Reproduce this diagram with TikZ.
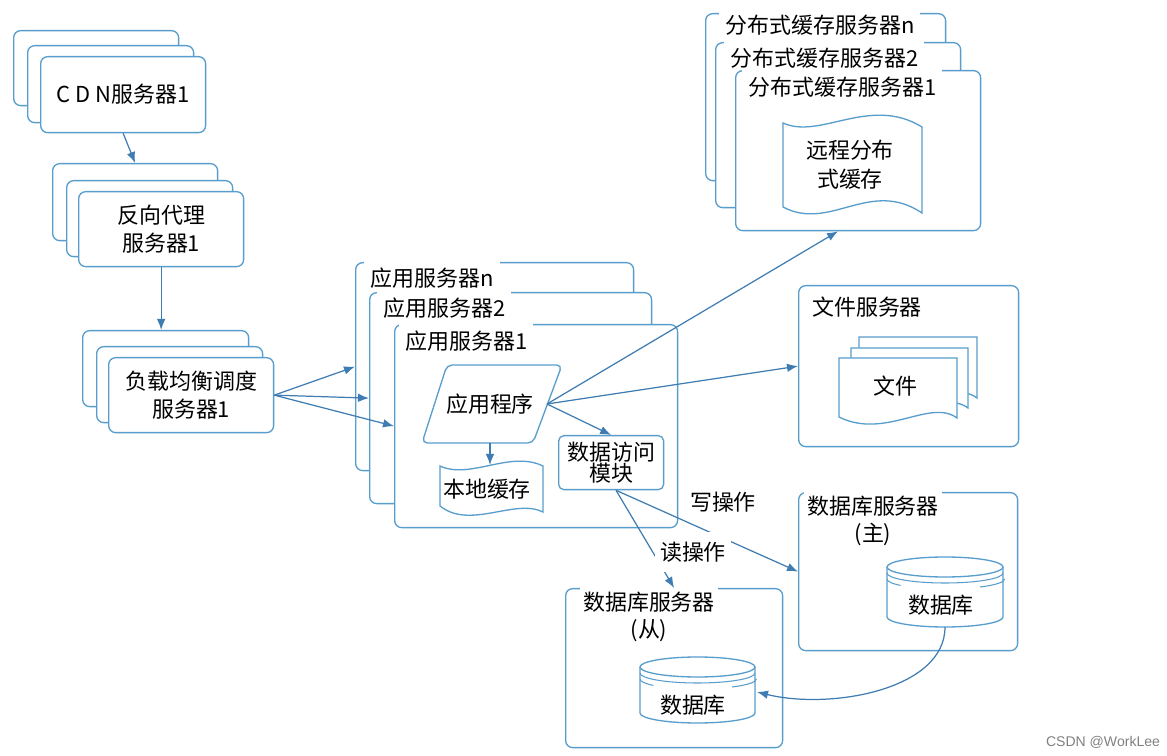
\documentclass[tikz,border=0pt]{standalone}
\usepackage{fontspec}
\setmainfont{Liberation Serif}
\newfontfamily\cjk{Noto Sans CJK SC}
\newfontfamily\wmfont{Liberation Sans}
\usepackage{tikz}
\usetikzlibrary{arrows.meta}
\definecolor{boxblue}{RGB}{88,158,205}
\definecolor{arrblue}{RGB}{62,124,178}

\begin{document}
\begin{tikzpicture}[x=0.02cm, y=-0.02cm,
		srv/.style={draw=boxblue, fill=white, line width=0.75pt, rounded corners=4pt, anchor=north west, inner sep=0pt},
		txt/.style={font=\cjk\fontsize{12.5}{15.5}\selectfont, align=center, inner sep=1pt},
		ttl/.style={txt, fill=white, anchor=west, inner xsep=0.12cm, minimum height=0.76cm},
		shp/.style={draw=boxblue, fill=white, line width=0.75pt},
		ring/.style={draw=boxblue, line width=0.6pt},
		arr/.style={draw=arrblue, line width=0.7pt, -{Latex[length=2.2mm, width=1.7mm]}}]
			\useasboundingbox (0,0) rectangle (1167,756);
			% CDN, reverse proxy and load balancer stacks:
			\node[srv, minimum width=3.3cm, minimum height=1.5cm](cdnC) at (13,30){};
			\node[srv, minimum width=3.32cm, minimum height=1.54cm](cdnB) at (27,45){};
			\node[srv, txt, minimum width=3.3cm, minimum height=1.52cm](cdn) at (40,56){C D N服务器1};
			\node[srv, minimum width=3.3cm, minimum height=1.54cm](rpC) at (52,163){};
			\node[srv, minimum width=3.32cm, minimum height=1.52cm](rpB) at (66,180){};
			\node[srv, txt, minimum width=3.3cm, minimum height=1.5cm](rp) at (78,191){反向代理\\服务器1};
			\node[srv, minimum width=3.32cm, minimum height=1.52cm](lbC) at (82,330){};
			\node[srv, minimum width=3.32cm, minimum height=1.52cm](lbB) at (96,346){};
			\node[srv, txt, minimum width=3.3cm, minimum height=1.5cm](lb) at (108,357){负载均衡调度\\服务器1};
			% Application servers:
			\node[srv, minimum width=5.56cm, minimum height=4.16cm](appC) at (355,262){};
			\node[ttl](appCt) at (364,278){应用服务器n};
			\node[srv, minimum width=5.64cm, minimum height=4.22cm](appB) at (369,292){};
			\node[ttl](appBt) at (377,308){应用服务器2};
			\node[srv, minimum width=5.66cm, minimum height=4.06cm](app) at (394,324){};
			\node[ttl](appt) at (399,341){应用服务器1};
			\draw[shp, rounded corners=3pt] (447,365) -- (562,365) -- (533,443) -- (422,443) -- cycle;
			\node[txt](prog) at (490,404){应用程序};
			\coordinate (progR) at (547,404);
			\coordinate (progB) at (490,443);
			\draw[shp] (440,466) .. controls (470,480) and (510,450) .. (543,466) -- (543,512) .. controls (515,498) and (470,530) .. (440,506) -- cycle;
			\node[txt](lc) at (487,489){本地缓存};
			\coordinate (lcT) at (490,465);
			\node[srv, txt, minimum width=2.1cm, minimum height=1.08cm, rounded corners=3pt](dam) at (558,435){数据访问\\[-3pt]模块};
			% Distributed cache servers:
			\node[srv, minimum width=4.8cm, minimum height=3.34cm](dcC) at (705,13){};
			\node[ttl](dcCt) at (719,25){分布式缓存服务器n};
			\node[srv, minimum width=4.9cm, minimum height=3.3cm](dcB) at (715,42){};
			\node[ttl](dcBt) at (724,58){分布式缓存服务器2};
			\node[srv, minimum width=4.9cm, minimum height=3.2cm](dc) at (735,70){};
			\node[ttl](dct) at (742,87){分布式缓存服务器1};
			\draw[shp] (783,123) .. controls (820,140) and (870,95) .. (922,127) -- (922,213) .. controls (870,178) and (830,232) .. (783,207) -- cycle;
			\node[txt](rc) at (850,165){远程分布\\[1pt]式缓存};
			% File server:
			\node[srv, minimum width=4.4cm, minimum height=3.22cm](fs) at (798,285){};
			\node[txt, anchor=west](fst) at (810,307){文件服务器};
			\draw[shp] (859,337) -- (977,337) -- (977,398) .. controls (950,378) and (905,420) .. (859,397) -- cycle;
			\draw[shp] (851,348) -- (968,348) -- (968,408) .. controls (941,388) and (896,430) .. (851,407) -- cycle;
			\draw[shp] (839,358) -- (957,358) -- (957,418) .. controls (930,398) and (885,440) .. (839,417) -- cycle;
			\node[txt](file) at (895,386){文件};
			% Database servers:
			\node[srv, minimum width=4.38cm, minimum height=3.16cm](dbM) at (798,492){};
			\node[txt, fill=white, inner xsep=0.06cm, inner ysep=3pt, anchor=north](dbMt) at (873,490){数据库服务器\\(主)};
			\draw[shp] (887,567) -- (887,617) arc[start angle=180, end angle=360, x radius=1.16cm, y radius=0.2cm] -- (1003,567);
			\draw[shp] (945,567) ellipse[x radius=1.16cm, y radius=0.2cm];
			\draw[ring] (887,573) arc[start angle=180, end angle=360, x radius=1.16cm, y radius=0.2cm];
			\draw[ring] (887,579) arc[start angle=180, end angle=220, x radius=1.16cm, y radius=0.2cm];
			\draw[ring] (980,587) arc[start angle=305, end angle=360, x radius=1.16cm, y radius=0.2cm];
			\node[txt](dbMd) at (941,605){数据库};
			\coordinate (dbMbot) at (945,627);
			\node[srv, minimum width=4.34cm, minimum height=3.18cm](dbS) at (565,588){};
			\node[txt, fill=white, inner xsep=0.06cm, inner ysep=3pt, anchor=north](dbSt) at (649,586){数据库服务器\\(从)};
			\draw[shp] (640,667) -- (640,713) arc[start angle=180, end angle=360, x radius=1.15cm, y radius=0.2cm] -- (755,667);
			\draw[shp] (697.5,667) ellipse[x radius=1.15cm, y radius=0.2cm];
			\draw[ring] (640,673) arc[start angle=180, end angle=360, x radius=1.15cm, y radius=0.2cm];
			\draw[ring] (640,679) arc[start angle=180, end angle=220, x radius=1.15cm, y radius=0.2cm];
			\draw[ring] (732,687) arc[start angle=305, end angle=360, x radius=1.15cm, y radius=0.2cm];
			\node[txt](dbSd) at (693,705){数据库};
			\coordinate (dbSside) at (757,692);
			% Arrows:
			\draw[arr] (cdn.south) -- (rpC.north);
			\draw[arr] (rp.south) -- (rp.south |- lbC.north);
			\draw[arr] (lb.east) -- (appC.west);
			\draw[arr] (lb.east) -- (appB.west);
			\draw[arr] (lb.east) -- (app.west);
			\draw[arr] (progR) -- (dc.256);
			\draw[arr] (progR) -- (fs.west);
			\draw[arr] (progR) -- (dam.north);
			\draw[arr] (progB) -- (lcT);
			\draw[arr] (dam.280) -- (dbS.north);
			\draw[arr] (dam.280) -- (dbM.west);
			\draw[arr] (dbMbot) .. controls (945,690) and (830,710) .. (dbSside);
			\node[txt, fill=white, inner xsep=0.1cm, minimum height=0.8cm](rd) at (693,552){读操作};
			\node[txt](wr) at (723,502){写操作};
			\node[font=\wmfont\fontsize{8}{10}\selectfont, text=gray](wm) at (1103,742){CSDN @WorkLee};
		\end{tikzpicture}
\end{document}
